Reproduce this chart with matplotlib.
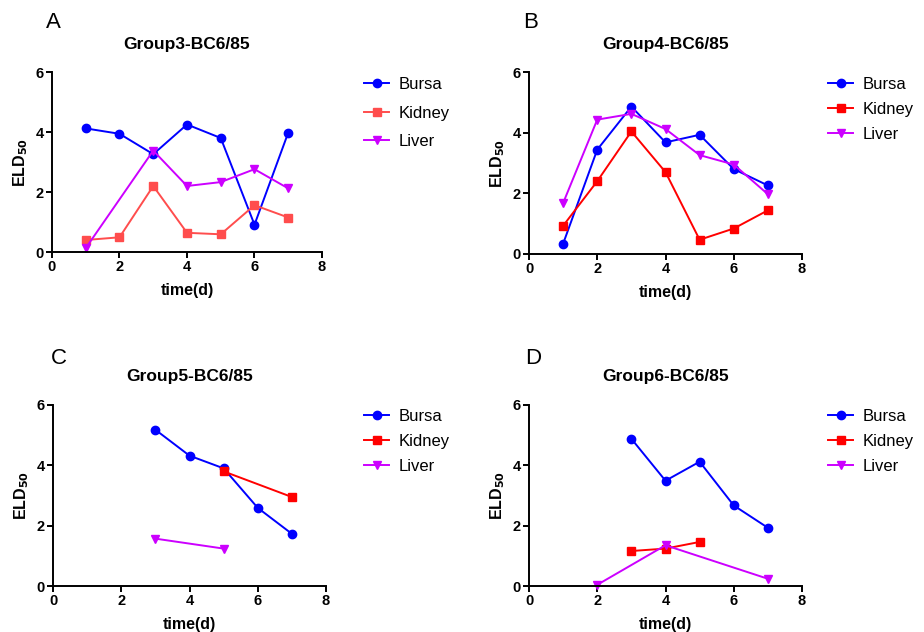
import numpy as np
import matplotlib
matplotlib.use("Agg")
import matplotlib.pyplot as plt

plt.rcParams['font.family'] = ['Liberation Sans', 'DejaVu Sans']

# ---- data ----
titles = ["Group3-BC6/85", "Group4-BC6/85", "Group5-BC6/85", "Group6-BC6/85"]
letters = ["A", "B", "C", "D"]

a_bursa_x = [1, 2, 3, 4, 5, 6, 7]
a_bursa_y = [4.12, 3.94, 3.26, 4.25, 3.80, 0.91, 3.98]
a_kidney_x = [1, 2, 3, 4, 5, 6, 7]
a_kidney_y = [0.40, 0.49, 2.20, 0.64, 0.59, 1.56, 1.15]
a_liver_x = [1, 3, 4, 5, 6, 7]
a_liver_y = [0.13, 3.38, 2.20, 2.33, 2.76, 2.12]

b_bursa_x = [1, 2, 3, 4, 5, 6, 7]
b_bursa_y = [0.34, 3.44, 4.86, 3.68, 3.93, 2.80, 2.26]
b_kidney_x = [1, 2, 3, 4, 5, 6, 7]
b_kidney_y = [0.93, 2.40, 4.04, 2.70, 0.47, 0.84, 1.44]
b_liver_x = [1, 2, 3, 4, 5, 6, 7]
b_liver_y = [1.68, 4.43, 4.62, 4.12, 3.26, 2.95, 1.97]

c_bursa_x = [3, 4, 5, 6, 7]
c_bursa_y = [5.18, 4.32, 3.90, 2.59, 1.73]
c_kidney_x = [5, 7]
c_kidney_y = [3.80, 2.95]
c_liver_x = [3, 5]
c_liver_y = [1.57, 1.24]

d_bursa_x = [3, 4, 5, 6, 7]
d_bursa_y = [4.88, 3.49, 4.12, 2.67, 1.93]
d_kidney_x = [3, 4, 5]
d_kidney_y = [1.16, 1.24, 1.46]
d_liver_x = [2, 4, 7]
d_liver_y = [0.04, 1.35, 0.24]

series_names = ["Bursa", "Kidney", "Liver"]
x_ticks = [0, 2, 4, 6, 8]
y_ticks = [0, 2, 4, 6]

panels = [
    [(a_bursa_x, a_bursa_y), (a_kidney_x, a_kidney_y), (a_liver_x, a_liver_y)],
    [(b_bursa_x, b_bursa_y), (b_kidney_x, b_kidney_y), (b_liver_x, b_liver_y)],
    [(c_bursa_x, c_bursa_y), (c_kidney_x, c_kidney_y), (c_liver_x, c_liver_y)],
    [(d_bursa_x, d_bursa_y), (d_kidney_x, d_kidney_y), (d_liver_x, d_liver_y)],
]

W, H = 924, 632
fig = plt.figure(figsize=(W / 100, H / 100), dpi=100)

# axes boxes in pixels: left, top, right, bottom
boxes = [(52, 72, 322, 252), (529, 72, 802, 254), (53, 405, 326, 586), (529, 405, 802, 586)]
title_y = [44, 44, 377, 377]
letter_pos = [(53, 22), (531, 22), (59, 358), (533, 358)]
legend_anchor = [(364, 77), (828, 77), (364, 409), (828, 409)]
legend_spacing = [0.82, 0.6, 0.6, 0.6]

kidney_colors = ["#FF4D4D", "#FF0000", "#FF0000", "#FF0000"]
bursa_color = "#0000FF"
liver_color = "#CC00FF"
markers = ["o", "s", "v"]

for i in range(4):
    l, t, r, b = boxes[i]
    ax = fig.add_axes([l / W, 1 - b / H, (r - l) / W, (b - t) / H])
    colors = [bursa_color, kidney_colors[i], liver_color]
    handles = []
    for (xs, ys), c, m, name in zip(panels[i], colors, markers, series_names):
        h, = ax.plot(xs, ys, color=c, marker=m, markersize=6 if m != "s" else 5.5,
                     linewidth=1.4, label=name, clip_on=False)
        handles.append(h)
    ax.set_xlim(0, 8)
    ax.set_ylim(0, 6)
    ax.set_xticks(x_ticks)
    ax.set_yticks(y_ticks)
    for s in ["top", "right"]:
        ax.spines[s].set_visible(False)
    for s in ["left", "bottom"]:
        ax.spines[s].set_linewidth(1.4)
    ax.tick_params(direction="out", length=4, width=1.4, labelsize=10.5, pad=2)
    for lab in ax.get_xticklabels() + ax.get_yticklabels():
        lab.set_fontweight("bold")
    ax.set_xlabel("time(d)", fontsize=11.5, fontweight="bold", labelpad=6)
    ax.set_ylabel("ELD$_{\\mathbf{50}}$", fontsize=11.5, fontweight="bold", labelpad=4)
    cx = (l + r) / 2
    fig.text(cx / W, 1 - title_y[i] / H, titles[i], ha="center", va="center",
             fontsize=12.5, fontweight="bold")
    lx, ly = letter_pos[i]
    fig.text(lx / W, 1 - ly / H, letters[i], ha="center", va="center", fontsize=16)
    ax_, ay_ = legend_anchor[i]
    fig.legend(handles=handles, loc="upper left", bbox_to_anchor=(ax_ / W, 1 - ay_ / H),
               frameon=False, fontsize=12, handlelength=1.5, handletextpad=0.6,
               labelspacing=legend_spacing[i], borderaxespad=0, borderpad=0)

fig.savefig("out.png", dpi=100)
